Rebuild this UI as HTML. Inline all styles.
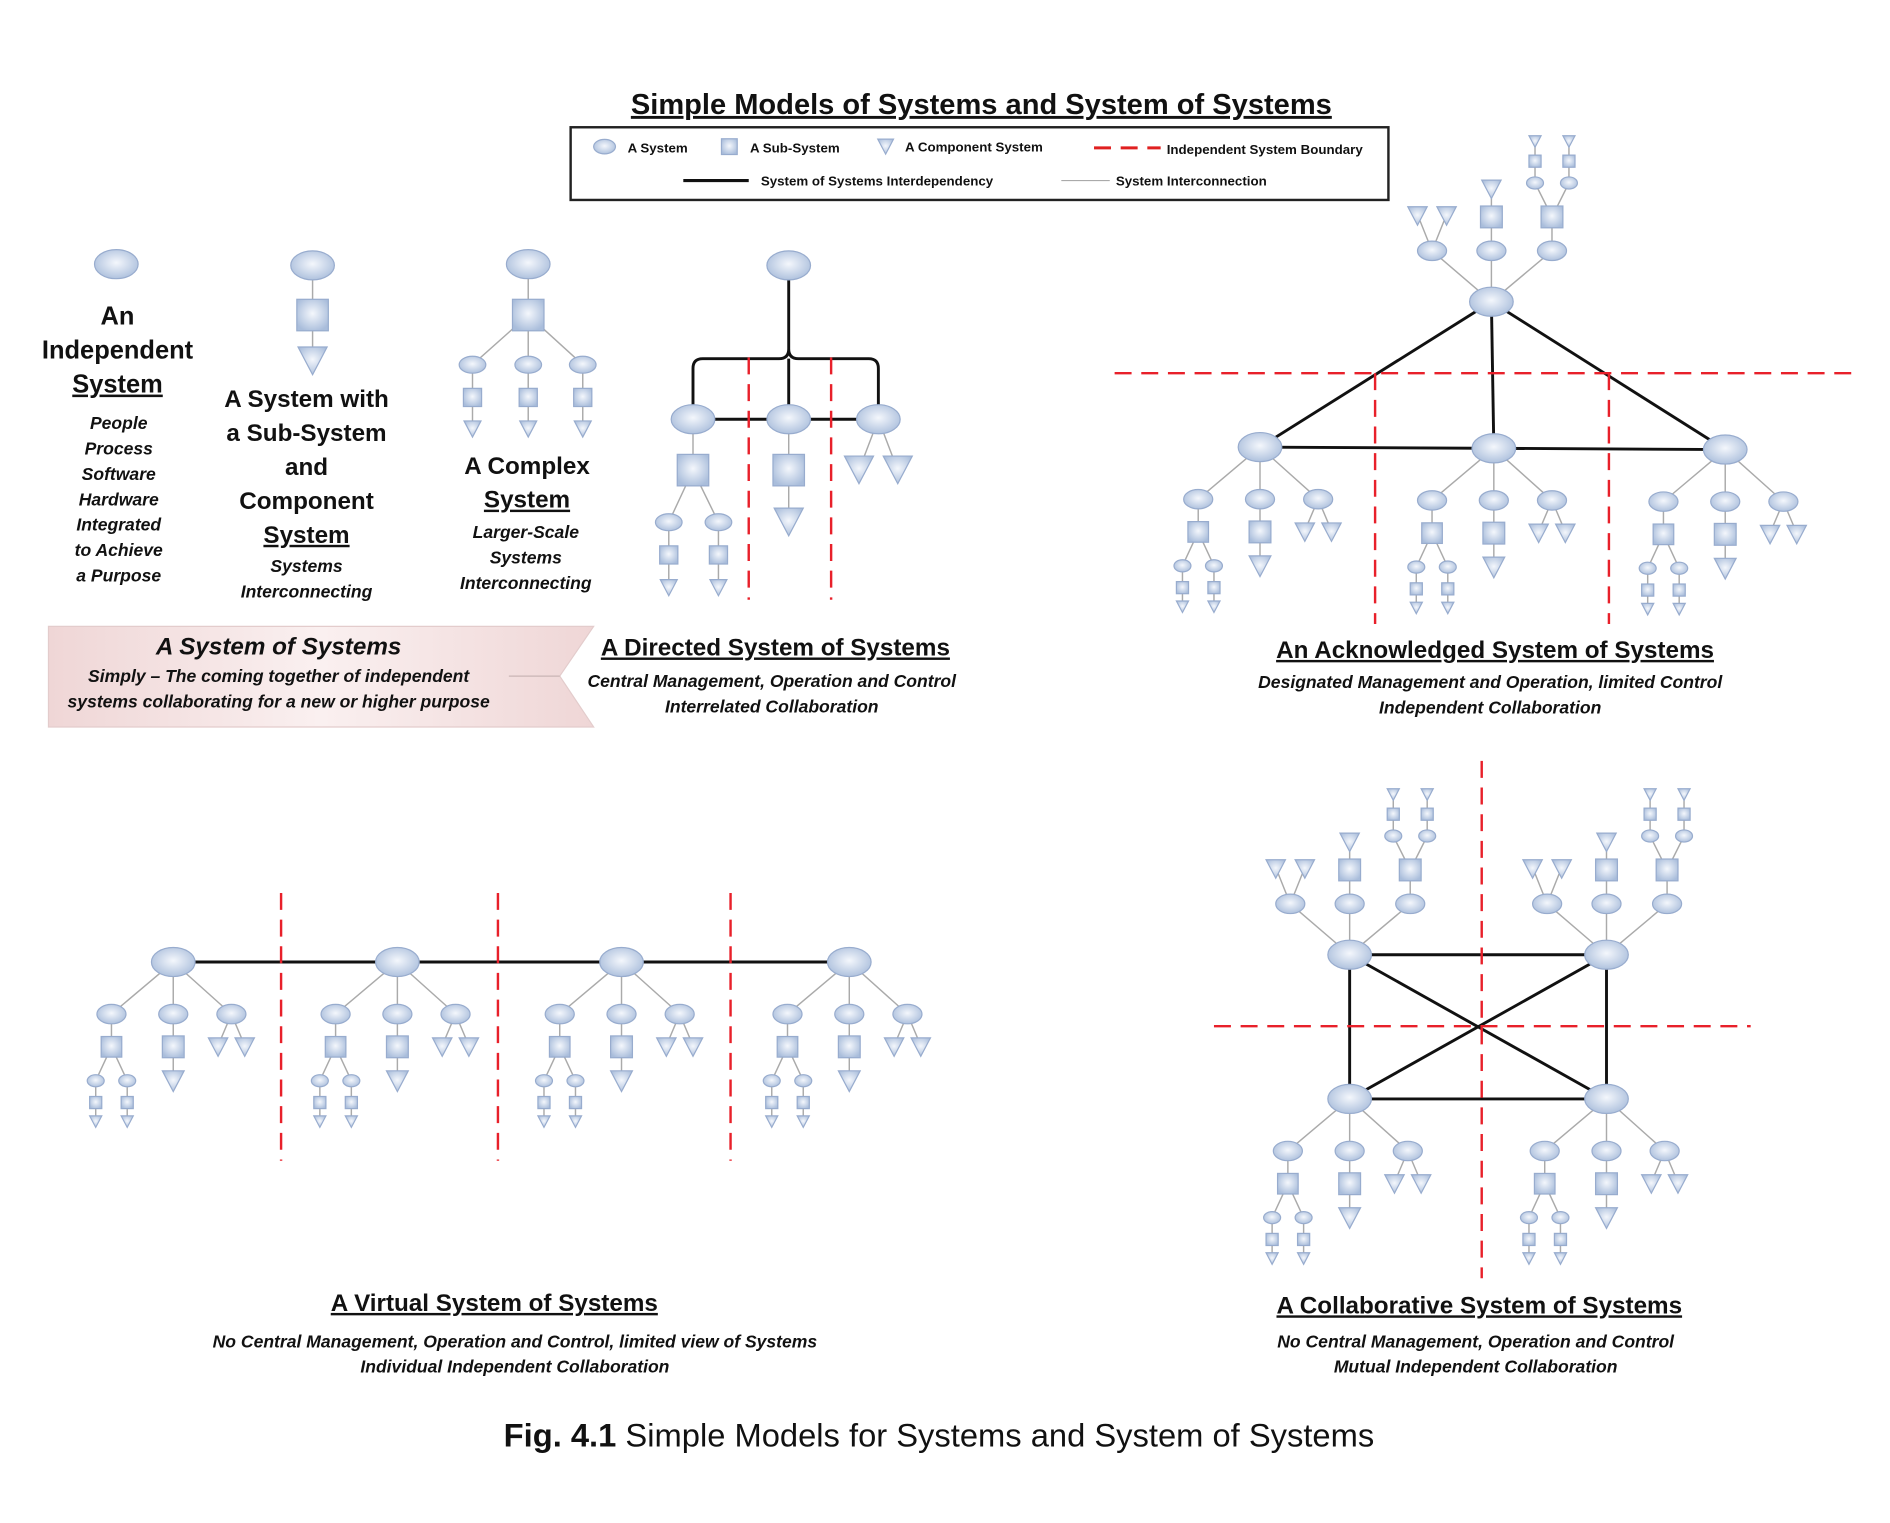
<!DOCTYPE html>
<html><head><meta charset="utf-8"><style>
html,body{margin:0;padding:0;background:#fff;}
svg{display:block}
text{font-family:"Liberation Sans",sans-serif;fill:#111}
.t{font-weight:bold;font-size:20px}
.s{font-weight:bold;font-style:italic;font-size:14.5px}
.lg{font-weight:bold;font-size:11px}
</style></head><body>
<svg id="sv" width="1890" height="1523" viewBox="0 0 1560 1257" xmlns="http://www.w3.org/2000/svg">
<defs>
<radialGradient id="g" cx="50%" cy="45%" r="60%"><stop offset="0" stop-color="#f4f7fc"/><stop offset="1" stop-color="#a9bddb"/></radialGradient>
<linearGradient id="pk" x1="0" x2="1"><stop offset="0" stop-color="#efd6d6"/><stop offset=".5" stop-color="#faf0f0"/><stop offset="1" stop-color="#efd6d6"/></linearGradient>
</defs>
<g id="lines"></g>
<g id="shapes"></g>
<text x="810" y="94" text-anchor="middle" class="t" style="font-size:24px" text-decoration="underline">Simple Models of Systems and System of Systems</text>
<rect x="471" y="105" width="675" height="60" fill="none" stroke="#222" stroke-width="2"/>
<text x="518" y="126" class="lg">A System</text>
<text x="619" y="126" class="lg">A Sub-System</text>
<text x="747" y="125" class="lg">A Component System</text>
<line x1="903" y1="122" x2="958" y2="122" stroke="#e02020" stroke-width="2.5" stroke-dasharray="14,8"/>
<text x="963" y="127" class="lg">Independent System Boundary</text>
<line x1="564" y1="149" x2="618" y2="149" stroke="#111" stroke-width="2.5"/>
<text x="628" y="153" class="lg">System of Systems Interdependency</text>
<line x1="876" y1="149" x2="916" y2="149" stroke="#aaa" stroke-width="1"/>
<text x="921" y="153" class="lg">System Interconnection</text>

<g text-anchor="middle">
<text x="97" y="268" class="t" style="font-size:21px">An</text>
<text x="97" y="296" class="t" style="font-size:21px">Independent</text>
<text x="97" y="324" class="t" style="font-size:21px" text-decoration="underline">System</text>
<text x="98" y="354" class="s">People</text>
<text x="98" y="375" class="s">Process</text>
<text x="98" y="396" class="s">Software</text>
<text x="98" y="417" class="s">Hardware</text>
<text x="98" y="438" class="s">Integrated</text>
<text x="98" y="459" class="s">to Achieve</text>
<text x="98" y="480" class="s">a Purpose</text>
<text x="253" y="336" class="t">A System with</text>
<text x="253" y="364" class="t">a Sub-System</text>
<text x="253" y="392" class="t">and</text>
<text x="253" y="420" class="t">Component</text>
<text x="253" y="448" class="t" text-decoration="underline">System</text>
<text x="253" y="472" class="s">Systems</text>
<text x="253" y="493" class="s">Interconnecting</text>
<text x="435" y="391" class="t">A Complex</text>
<text x="435" y="419" class="t" text-decoration="underline">System</text>
<text x="434" y="444" class="s">Larger-Scale</text>
<text x="434" y="465" class="s">Systems</text>
<text x="434" y="486" class="s">Interconnecting</text>
</g>
<polygon points="40,517 490,517 462,558 490,600 40,600" fill="url(#pk)" stroke="#e3cccc"/>
<line x1="420" y1="558" x2="462" y2="558" stroke="#c9b5b5"/>
<g text-anchor="middle">
<text x="230" y="540" class="t" style="font-style:italic">A System of Systems</text>
<text x="230" y="563" class="s">Simply – The coming together of independent</text>
<text x="230" y="584" class="s">systems collaborating for a new or higher purpose</text>
<text x="640" y="541" class="t" text-decoration="underline">A Directed System of Systems</text>
<text x="637" y="567" class="s">Central Management, Operation and Control</text>
<text x="637" y="588" class="s">Interrelated Collaboration</text>
<text x="1234" y="543" class="t" text-decoration="underline">An Acknowledged System of Systems</text>
<text x="1230" y="568" class="s">Designated Management and Operation, limited Control</text>
<text x="1230" y="589" class="s">Independent Collaboration</text>
<text x="408" y="1082" class="t" text-decoration="underline">A Virtual System of Systems</text>
<text x="425" y="1112" class="s">No Central Management, Operation and Control, limited view of Systems</text>
<text x="425" y="1133" class="s">Individual Independent Collaboration</text>
<text x="1221" y="1084" class="t" text-decoration="underline">A Collaborative System of Systems</text>
<text x="1218" y="1112" class="s">No Central Management, Operation and Control</text>
<text x="1218" y="1133" class="s">Mutual Independent Collaboration</text>
<text x="775" y="1194" style="font-size:27px"><tspan font-weight="bold">Fig. 4.1</tspan> Simple Models for Systems and System of Systems</text>
</g>
</svg>
<script>
var NS="http://www.w3.org/2000/svg",Lg=document.getElementById('lines'),Sg=document.getElementById('shapes');
function el(p,t,a){var e=document.createElementNS(NS,t);for(var k in a)e.setAttribute(k,a[k]);p.appendChild(e);return e;}
var F={fill:"url(#g)",stroke:"#98acce","stroke-width":1};
function E(x,y,rx,ry){el(Sg,'ellipse',Object.assign({cx:x,cy:y,rx:rx,ry:ry},F));}
function S(x,y,s){el(Sg,'rect',Object.assign({x:x-s/2,y:y-s/2,width:s,height:s},F));}
function T(x,y,w){el(Sg,'polygon',Object.assign({points:(x-w/2)+','+(y-w*0.4)+' '+(x+w/2)+','+(y-w*0.4)+' '+x+','+(y+w*0.55)},F));}
function L(x1,y1,x2,y2,c,w){el(Lg,'line',{x1:x1,y1:y1,x2:x2,y2:y2,stroke:c||"#aaa","stroke-width":w||1.2});}
function B(x1,y1,x2,y2){L(x1,y1,x2,y2,"#111",2.4);}
function R(x1,y1,x2,y2){el(Sg,'line',{x1:x1,y1:y1,x2:x2,y2:y2,stroke:"#e8202a","stroke-width":2,"stroke-dasharray":"14,8"});}
function tiny(x,y,dir){E(x,y,7,5);L(x,y,x,y+dir*33);S(x,y+dir*18,10);T(x,y+dir*33,10);}
function unitDown(x,y){
 var c=[x-51,x,x+48],cy=y+43;
 c.forEach(function(cx){L(x,y,cx,cy);});
 L(c[0],cy,c[0],y+70);S(c[0],y+70,17);
 [-13,13].forEach(function(d){L(c[0],y+70,c[0]+d,y+98);tiny(c[0]+d,y+98,1);});
 L(c[1],cy,c[1],y+97);S(c[1],y+70,18);T(c[1],y+97,18);
 L(c[2],cy,c[2]-11,y+69);L(c[2],cy,c[2]+11,y+69);T(c[2]-11,y+69,16);T(c[2]+11,y+69,16);
 c.forEach(function(cx){E(cx,cy,12,8);});
 E(x,y,18,12);
}
function unitUp(x,y){
 var c=[x-49,x,x+50],cy=y-42;
 c.forEach(function(cx){L(x,y,cx,cy);});
 L(c[0],cy,c[0]-12,y-72);L(c[0],cy,c[0]+12,y-72);T(c[0]-12,y-72,16);T(c[0]+12,y-72,16);
 L(c[1],cy,c[1],y-94);S(c[1],y-70,18);T(c[1],y-94,16);
 L(c[2],cy,c[2],y-70);S(c[2],y-70,18);
 [-14,14].forEach(function(d){var tx=c[2]+d;L(c[2],y-70,tx,y-98);L(tx,y-98,tx,y-133);E(tx,y-98,7,5);S(tx,y-116,10);T(tx,y-133,10);});
 c.forEach(function(cx){E(cx,cy,12,8);});
 E(x,y,18,12);
}
E(499,121,9,6);S(602,121,13);T(731,120,13);
E(96,218,18,12);
L(258,219,258,298);E(258,219,18,12);S(258,260,26);T(258,296,24);
L(436,218,436,260);E(436,218,18,12);S(436,260,26);
[390,436,481].forEach(function(x){L(436,260,x,301);L(x,301,x,353);E(x,301,11,7);S(x,328,15);T(x,353,14);});
B(651,231,651,288);
el(Lg,'path',{d:"M651,288 Q651,296 643,296 L580,296 Q572,296 572,304 L572,334 M651,288 Q651,296 659,296 L717,296 Q725,296 725,304 L725,334 M651,296 L651,334",fill:"none",stroke:"#111","stroke-width":2.4});
B(572,346,725,346);
E(651,219,18,12);
L(572,346,572,388);S(572,388,26);
[552,593].forEach(function(x){L(572,388,x,431);L(x,431,x,484);E(x,431,11,7);S(x,458,15);T(x,484,14);});
L(651,346,651,431);S(651,388,26);T(651,429,24);
L(725,346,709,388);L(725,346,741,388);T(709,386,24);T(741,386,24);
E(572,346,18,12);E(651,346,18,12);E(725,346,18,12);
R(618,295,618,495);R(686,295,686,495);
B(1231,249,1040,369);B(1231,249,1233,370);B(1231,249,1424,371);B(1040,369,1424,371);
unitUp(1231,249);
[1040,1233,1424].forEach(function(x,i){unitDown(x,369+i);});
R(920,308,1528,308);R(1135,308,1135,515);R(1328,308,1328,515);
B(143,794,701,794);
[143,328,513,701].forEach(function(x){unitDown(x,794);});
[232,411,603].forEach(function(x){R(x,737,x,958);});
B(1114,788,1326,788);B(1114,907,1326,907);B(1114,788,1114,907);B(1326,788,1326,907);B(1114,788,1326,907);B(1326,788,1114,907);
unitUp(1114,788);unitUp(1326,788);unitDown(1114,907);unitDown(1326,907);
R(1223,628,1223,1055);R(1002,847,1445,847);
</script>
</body></html>
